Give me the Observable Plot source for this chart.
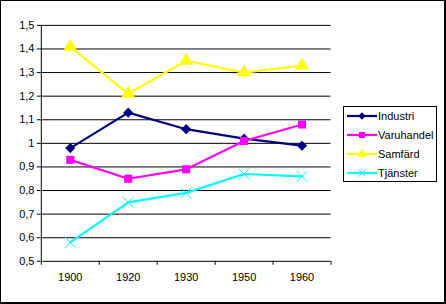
<!DOCTYPE html>
<html>
<head>
<meta charset="utf-8">
<script src="https://cdn.jsdelivr.net/npm/d3@7"></script>
<script src="https://cdn.jsdelivr.net/npm/@observablehq/plot@0.6"></script>
<style>
  html, body { margin: 0; padding: 0; background: white; }
  #frame {
    position: relative; width: 446px; height: 304px; box-sizing: border-box;
    border-style: solid; border-color: black;
    border-width: 1px 2px 2px 1px; background: white;
    font-family: Arial, "Liberation Sans", sans-serif;
  }
  #chart { position: absolute; left: -1px; top: -1px; }
  #legend { position: absolute; left: 342px; top: 105px; }
</style>
</head>
<body>
<div id="frame"><div id="chart"></div><div id="legend"></div></div>
<script>
const years = ["1900", "1920", "1930", "1950", "1960"];
const seriesNames = ["Industri", "Varuhandel", "Samfärd", "Tjänster"];
const industri   = [0.98, 1.13, 1.06, 1.02, 0.99];
const varuhandel = [0.93, 0.85, 0.89, 1.01, 1.08];
const samfard    = [1.41, 1.21, 1.35, 1.30, 1.33];
const tjanster   = [0.58, 0.75, 0.79, 0.87, 0.86];
const yTicks = [0.5, 0.6, 0.7, 0.8, 0.9, 1.0, 1.1, 1.2, 1.3, 1.4, 1.5];

const colors  = ["#000080", "#FF00FF", "#FFFF00", "#00FFFF"];
const symbols = ["diamond2", "square", "triangle", "times"];
const values  = [industri, varuhandel, samfard, tjanster];

const rows = [];
values.forEach((arr, s) => arr.forEach((v, i) => rows.push({series: seriesNames[s], i: i + 0.5, value: v})));

const fmt = d => String(+d.toFixed(1)).replace(".", ",");

const marks = [
  Plot.ruleY(yTicks, {stroke: "black", strokeOpacity: 1}),
  Plot.ruleX([0], {stroke: "black", strokeOpacity: 1}),
  Plot.axisY({ticks: yTicks, tickSize: 4, tickPadding: 3, tickFormat: fmt, label: null, strokeOpacity: 1}),
  Plot.axisX({ticks: d3.range(years.length + 1), tickSize: 4, tickFormat: () => "", label: null, strokeOpacity: 1}),
  Plot.axisX({ticks: years.map((d, i) => i + 0.5), tickSize: 0, tickPadding: 12, tickFormat: v => years[Math.floor(v)], label: null})
];
seriesNames.forEach((name, s) => {
  const data = rows.filter(r => r.series === name);
  marks.push(Plot.line(data, {x: "i", y: "value", stroke: colors[s], strokeWidth: 2.2}));
  if (symbols[s] === "times") {
    marks.push(Plot.dot(data, {x: "i", y: "value", symbol: "times", r: 5, stroke: colors[s], strokeWidth: 1, fill: "none"}));
  } else {
    marks.push(Plot.dot(data, {x: "i", y: "value", symbol: symbols[s], r: symbols[s] === "triangle" ? 5.2 : 4.6, fill: colors[s], stroke: "none"}));
  }
});

const chart = Plot.plot({
  width: 446, height: 304,
  marginLeft: 41, marginRight: 114, marginTop: 25, marginBottom: 42,
  x: {type: "linear", domain: [0, years.length], axis: null},
  y: {domain: [0.5, 1.5], axis: null, label: null},
  style: {fontFamily: "Arial, 'Liberation Sans', sans-serif", fontSize: "11px", color: "black", background: "transparent", overflow: "visible"},
  marks
});
document.getElementById("chart").appendChild(chart);

// Legend
const lw = 95, lh = 77;
const lsvg = d3.select("#legend").append("svg").attr("width", lw).attr("height", lh)
  .style("font-family", "Arial, 'Liberation Sans', sans-serif").style("font-size", "11px");
lsvg.append("rect").attr("x", 0.5).attr("y", 0.5).attr("width", lw - 2).attr("height", lh - 2)
  .attr("fill", "white").attr("stroke", "black");
const symMap = {diamond2: d3.symbolDiamond2, square: d3.symbolSquare, triangle: d3.symbolTriangle, times: d3.symbolTimes};
seriesNames.forEach((name, s) => {
  const cy = 10 + s * 19;
  const g = lsvg.append("g");
  g.append("line").attr("x1", 4).attr("x2", 34).attr("y1", cy).attr("y2", cy).attr("stroke", colors[s]).attr("stroke-width", 2.2);
  const p = g.append("path").attr("transform", `translate(19,${cy})`).attr("d", d3.symbol(symMap[symbols[s]], 36)());
  if (symbols[s] === "times") p.attr("fill", "none").attr("stroke", colors[s]);
  else p.attr("fill", colors[s]);
  g.append("text").attr("x", 35).attr("y", cy).attr("dy", "0.35em").text(name);
});
</script>
</body>
</html>
